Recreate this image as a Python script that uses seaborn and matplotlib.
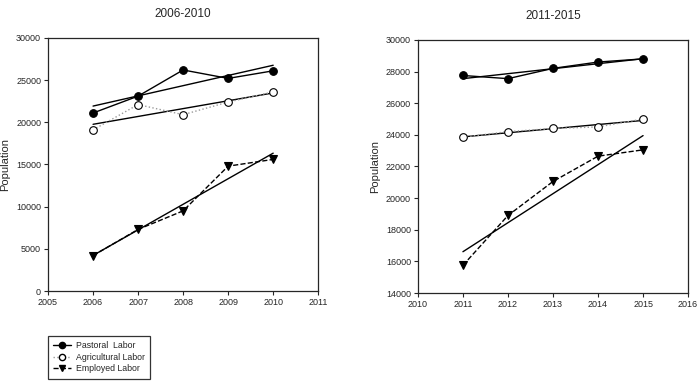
import numpy as np
import pandas as pd
import matplotlib
matplotlib.use("Agg")
import matplotlib.pyplot as plt
import seaborn as sns
from matplotlib.lines import Line2D

# values
years_a = [2006, 2007, 2008, 2009, 2010]
pastoral_a = [21100, 23100, 26200, 25200, 26100]
agri_a = [19100, 22100, 20900, 22400, 23600]
employed_a = [4200, 7300, 9500, 14800, 15600]

years_b = [2011, 2012, 2013, 2014, 2015]
pastoral_b = [27750, 27550, 28200, 28600, 28800]
agri_b = [23850, 24200, 24400, 24500, 25000]
employed_b = [15750, 18900, 21050, 22650, 23050]

labels = ["Pastoral  Labor", "Agricultural Labor", "Employed Labor"]

sns.set_style("ticks")
plt.rcParams['font.family'] = ['Liberation Sans Narrow', 'Liberation Sans', 'DejaVu Sans']

styles = {
    labels[0]: dict(color='black', ls='-', lw=1.0, marker='o', mfc='black', mec='black', ms=5.5),
    labels[1]: dict(color='#9a9a9a', ls=':', lw=1.0, marker='o', mfc='white', mec='black', ms=5.5),
    labels[2]: dict(color='black', ls='--', lw=1.0, marker='v', mfc='black', mec='black', ms=5.5),
}

fig = plt.figure(figsize=(7, 3.9), dpi=100)
ax1 = fig.add_axes([0.0686, 0.2538, 0.386, 0.649])
ax2 = fig.add_axes([0.597, 0.2487, 0.386, 0.649])


def draw(ax, years, series, title, xlim, ylim, yticks):
    for name, vals in zip(labels, series):
        df = pd.DataFrame({'year': years, 'pop': vals})
        st = styles[name]
        sns.lineplot(data=df, x='year', y='pop', ax=ax, color=st['color'],
                     linestyle=st['ls'], linewidth=st['lw'], marker=st['marker'],
                     markerfacecolor=st['mfc'], markeredgecolor=st['mec'],
                     markersize=st['ms'], markeredgewidth=0.8, zorder=3)
        sns.regplot(data=df, x='year', y='pop', ax=ax, scatter=False, ci=None,
                    line_kws=dict(color='black', lw=1.0, zorder=2))
    ax.set_xlim(*xlim)
    ax.set_ylim(*ylim)
    ax.set_xticks(range(xlim[0], xlim[1] + 1))
    ax.set_yticks(yticks)
    ax.tick_params(labelsize=6.5, length=3, width=0.8, direction='out', pad=2)
    ax.set_xlabel('')
    ax.set_ylabel('Population', fontsize=8, labelpad=4)
    ax.set_title(title, fontsize=8.5, pad=15)
    for sp in ax.spines.values():
        sp.set_visible(True)
        sp.set_linewidth(0.9)


draw(ax1, years_a, [pastoral_a, agri_a, employed_a], '2006-2010',
     (2005, 2011), (0, 30000), range(0, 30001, 5000))
draw(ax2, years_b, [pastoral_b, agri_b, employed_b], '2011-2015',
     (2010, 2016), (14000, 30000), range(14000, 30001, 2000))

handles = []
for name in labels:
    st = styles[name]
    handles.append(Line2D([], [], color=st['color'], ls=st['ls'], lw=st['lw'],
                          marker=st['marker'], mfc=st['mfc'], mec=st['mec'], ms=4.5))
leg = fig.legend(handles, labels, loc='upper left', bbox_to_anchor=(0.0686, 0.139),
                 borderaxespad=0, fontsize=6.3, frameon=True, fancybox=False,
                 edgecolor='black', handlelength=2.0, handletextpad=0.6,
                 borderpad=0.6, labelspacing=0.3)
leg.get_frame().set_linewidth(0.9)

fig.savefig('out.png', dpi=100)
